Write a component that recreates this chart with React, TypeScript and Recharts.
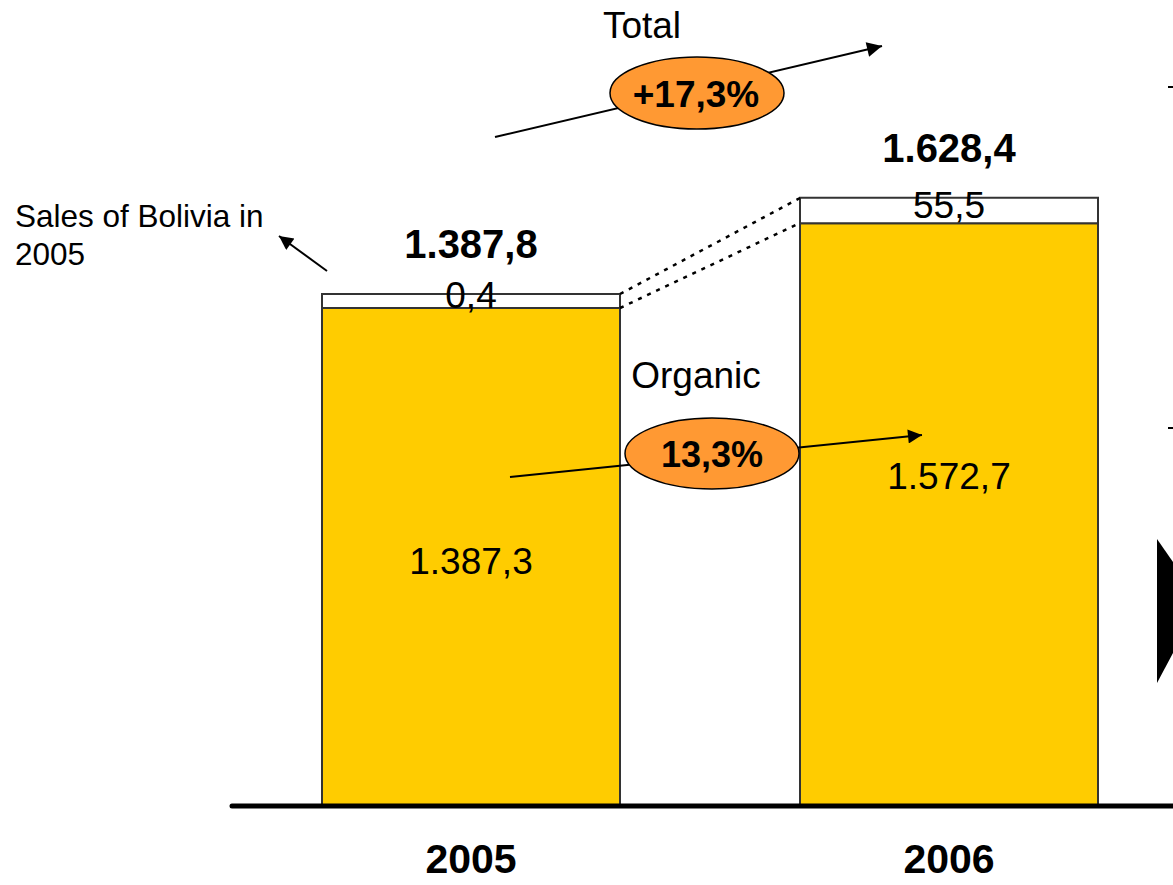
import React from 'react';
import { BarChart, Bar, XAxis, YAxis, LabelList } from 'recharts';

const years = ['2005', '2006'];
const organicSales = [1387.3, 1572.7];
const acquiredSales = [0.4, 55.5];
const totalSales = [1387.8, 1628.4];
const totalGrowthLabel = '+17,3%';
const organicGrowthLabel = '13,3%';

const fmt = (v: number) => {
  const [i, d] = v.toFixed(1).split('.');
  const withDots = i.replace(/\B(?=(\d{3})+(?!\d))/g, '.');
  return `${withDots},${d}`;
};

const data = years.map((year, i) => ({
  year,
  organic: organicSales[i],
  acquired: acquiredSales[i],
  totalLabel: fmt(totalSales[i]),
}));

const FONT = '"Liberation Sans", Arial, sans-serif';

const YearTick = (props: any) => {
  const { x, y, payload } = props;
  return (
    <text x={x} y={y + 65} textAnchor="middle" fontFamily={FONT} fontWeight="bold" fontSize={41} fill="#000">
      {payload.value}
    </text>
  );
};

const Overlay = () => (
  <svg width={1173} height={885} style={{ position: 'absolute', left: 0, top: 0, pointerEvents: 'none' }}>
    <defs>
      <marker id="ahBig" viewBox="0 0 10 10" refX="10" refY="5" markerUnits="userSpaceOnUse" markerWidth="24" markerHeight="15" orient="auto">
        <path d="M0,0 L10,5 L0,10 z" fill="#000" />
      </marker>
      <marker id="ahMid" viewBox="0 0 10 10" refX="10" refY="5" markerUnits="userSpaceOnUse" markerWidth="22" markerHeight="14" orient="auto">
        <path d="M0,0 L10,5 L0,10 z" fill="#000" />
      </marker>
    </defs>
    {/* dotted connectors */}
    <line x1={620} y1={294} x2={800} y2={198} stroke="#000" strokeWidth={2.5} strokeDasharray="4 6" />
    <line x1={620} y1={308} x2={800} y2={223} stroke="#000" strokeWidth={2.5} strokeDasharray="4 6" />

    {/* Total */}
    <text x={642} y={38} textAnchor="middle" fontFamily={FONT} fontSize={37} fill="#000">Total</text>
    <line x1={495} y1={137} x2={882} y2={46} stroke="#000" strokeWidth={2} markerEnd="url(#ahBig)" />
    <ellipse cx={697} cy={93} rx={87} ry={36} fill="#FF9933" stroke="#000" strokeWidth={1.5} />
    <text x={696} y={107} textAnchor="middle" fontFamily={FONT} fontWeight="bold" fontSize={37} fill="#000">{totalGrowthLabel}</text>

    {/* Organic */}
    <text x={696} y={388} textAnchor="middle" fontFamily={FONT} fontSize={37} fill="#000">Organic</text>
    <line x1={510} y1={477} x2={922} y2={435} stroke="#000" strokeWidth={2} markerEnd="url(#ahMid)" />
    <ellipse cx={712} cy={453.5} rx={87} ry={35.5} fill="#FF9933" stroke="#000" strokeWidth={1.5} />
    <text x={712} y={467} textAnchor="middle" fontFamily={FONT} fontWeight="bold" fontSize={36} fill="#000">{organicGrowthLabel}</text>

    {/* Bolivia note */}
    <text x={15} y={227} fontFamily={FONT} fontSize={31.5} fill="#000">Sales of Bolivia in</text>
    <text x={15} y={265} fontFamily={FONT} fontSize={31.5} fill="#000">2005</text>
    <line x1={327} y1={271} x2={279} y2={236} stroke="#000" strokeWidth={2} markerEnd="url(#ahMid)" />

    {/* right edge fragments */}
    <line x1={1168} y1={87} x2={1173} y2={87} stroke="#000" strokeWidth={2} />
    <line x1={1168} y1={428} x2={1173} y2={428} stroke="#000" strokeWidth={2} />
    <polygon points="1157,539 1173,562 1173,653 1157,683" fill="#000" />
  </svg>
);

export default function App() {
  return (
    <div style={{ position: 'fixed', left: 0, top: 0, width: 1173, height: 885, overflow: 'hidden', background: '#fff' }}>
      <div style={{ position: 'absolute', left: 0, top: 0 }}>
        <BarChart width={1200} height={885} data={data} margin={{ top: 0, right: 12, left: 232, bottom: 0 }} barSize={298}>
          <YAxis hide domain={[300, 2060]} allowDataOverflow />
          <XAxis
            dataKey="year"
            height={79}
            interval={0}
            tickLine={false}
            tickSize={0}
            axisLine={{ stroke: '#000', strokeWidth: 5, strokeLinecap: 'round' }}
            tick={<YearTick />}
          />
          <Bar dataKey="organic" stackId="s" fill="#FFCC00" stroke="#333" strokeWidth={2} isAnimationActive={false}>
            <LabelList
              dataKey="organic"
              position="insideTop"
              offset={240}
              formatter={(v: any) => fmt(Number(v))}
              style={{ fontFamily: FONT, fontSize: 37, fill: '#000' }}
            />
          </Bar>
          <Bar dataKey="acquired" stackId="s" fill="#FFFFFF" stroke="#333" strokeWidth={2} minPointSize={14} isAnimationActive={false}>
            <LabelList
              dataKey="acquired"
              position="center"
              dy={-6}
              formatter={(v: any) => fmt(Number(v))}
              style={{ fontFamily: FONT, fontSize: 37, fill: '#000' }}
            />
            <LabelList
              dataKey="totalLabel"
              position="top"
              offset={36}
              style={{ fontFamily: FONT, fontSize: 40, fontWeight: 'bold', fill: '#000' }}
            />
          </Bar>
        </BarChart>
      </div>
      <Overlay />
    </div>
  );
}
